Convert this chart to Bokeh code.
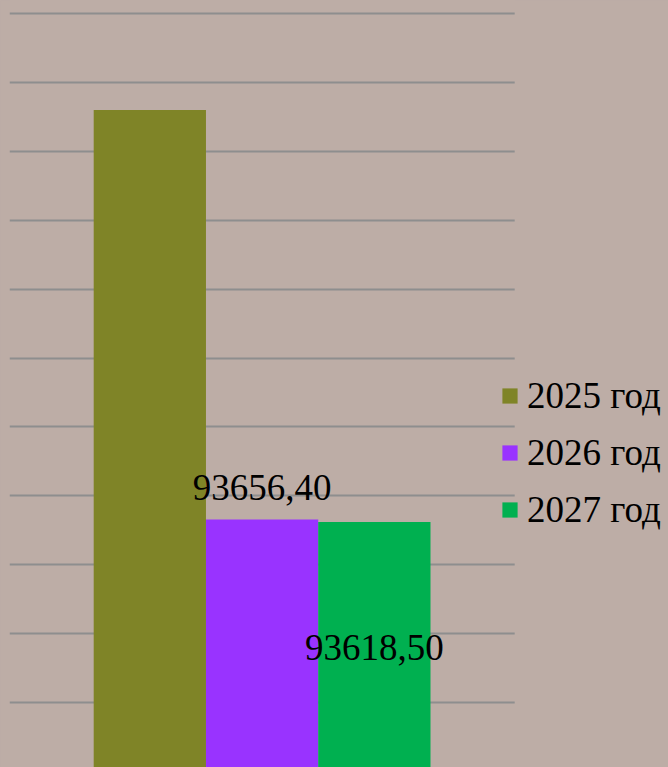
from bokeh.plotting import figure
from bokeh.models import (ColumnDataSource, Range1d, Grid, SingleIntervalTicker,
                          Legend, LegendItem, GlobalInlineStyleSheet, BoxAnnotation)
from bokeh.core.properties import value
from bokeh.embed import file_html
from bokeh.resources import INLINE

# ---- data ----
years = ["2025 год", "2026 год", "2027 год"]
amounts = [99600.0, 93656.40, 93618.50]
colors = ["#7F8427", "#9933FF", "#00B050"]
label_years = ["2026 год", "2027 год"]
label_values = [93656.40, 93618.50]

BG = "#BDADA6"
y_start, y_end = 90056.6, 101188.7
x_start, x_end, plot_edge = -1.25, 4.62, 3.25

p = figure(width=668, height=767, output_backend="svg", toolbar_location=None,
           x_range=Range1d(x_start, x_end), y_range=Range1d(y_start, y_end),
           x_axis_location=None, y_axis_location=None,
           min_border_left=9, min_border_right=0, min_border_top=0, min_border_bottom=0,
           background_fill_color=BG, border_fill_color=BG, outline_line_color=None)
p.stylesheets = [GlobalInlineStyleSheet(css="html,body{margin:0 !important;padding:0;background:%s;overflow:hidden;}" % BG)]
p.center = [c for c in p.center if not isinstance(c, Grid)]

p.add_layout(Grid(dimension=1, ticker=SingleIntervalTicker(interval=1000, num_minor_ticks=0),
                  grid_line_color="#8E8E8E", grid_line_width=2))
# plot area ends here; legend area to the right has no grid lines
p.add_layout(BoxAnnotation(left=plot_edge, fill_color=BG, fill_alpha=1.0, line_color=None,
                           level="underlay"))

renderers = []
for i, yr in enumerate(years):
    r = p.vbar(x=[i], top=[amounts[i]], bottom=90000, width=1.0,
               fill_color=colors[i], line_color=None)
    renderers.append(r)

# data labels
lx = [years.index(y) for y in label_years]
ltxt = [("%.2f" % v).replace(".", ",") for v in label_values]
p.text(x=[lx[0]], y=[label_values[0]], text=[ltxt[0]], text_align="center",
       text_baseline="alphabetic", y_offset=-32, text_font=value("Liberation Serif"),
       text_font_size="37px", text_color="black")
p.text(x=[lx[1]], y=[y_start], text=[ltxt[1]], text_align="center",
       text_baseline="alphabetic", y_offset=-120, text_font=value("Liberation Serif"),
       text_font_size="37px", text_color="black")

legend = Legend(items=[LegendItem(label=yr, renderers=[r]) for yr, r in zip(years, renderers)],
                location=(491, 229), orientation="vertical",
                glyph_width=19, glyph_height=19, label_height=57, label_standoff=8,
                spacing=0, padding=0, margin=0,
                label_text_font="Liberation Serif", label_text_font_size="37px",
                label_text_color="black", border_line_color=None, background_fill_alpha=0)
p.add_layout(legend)

open("out.html", "w").write(file_html(p, INLINE))
